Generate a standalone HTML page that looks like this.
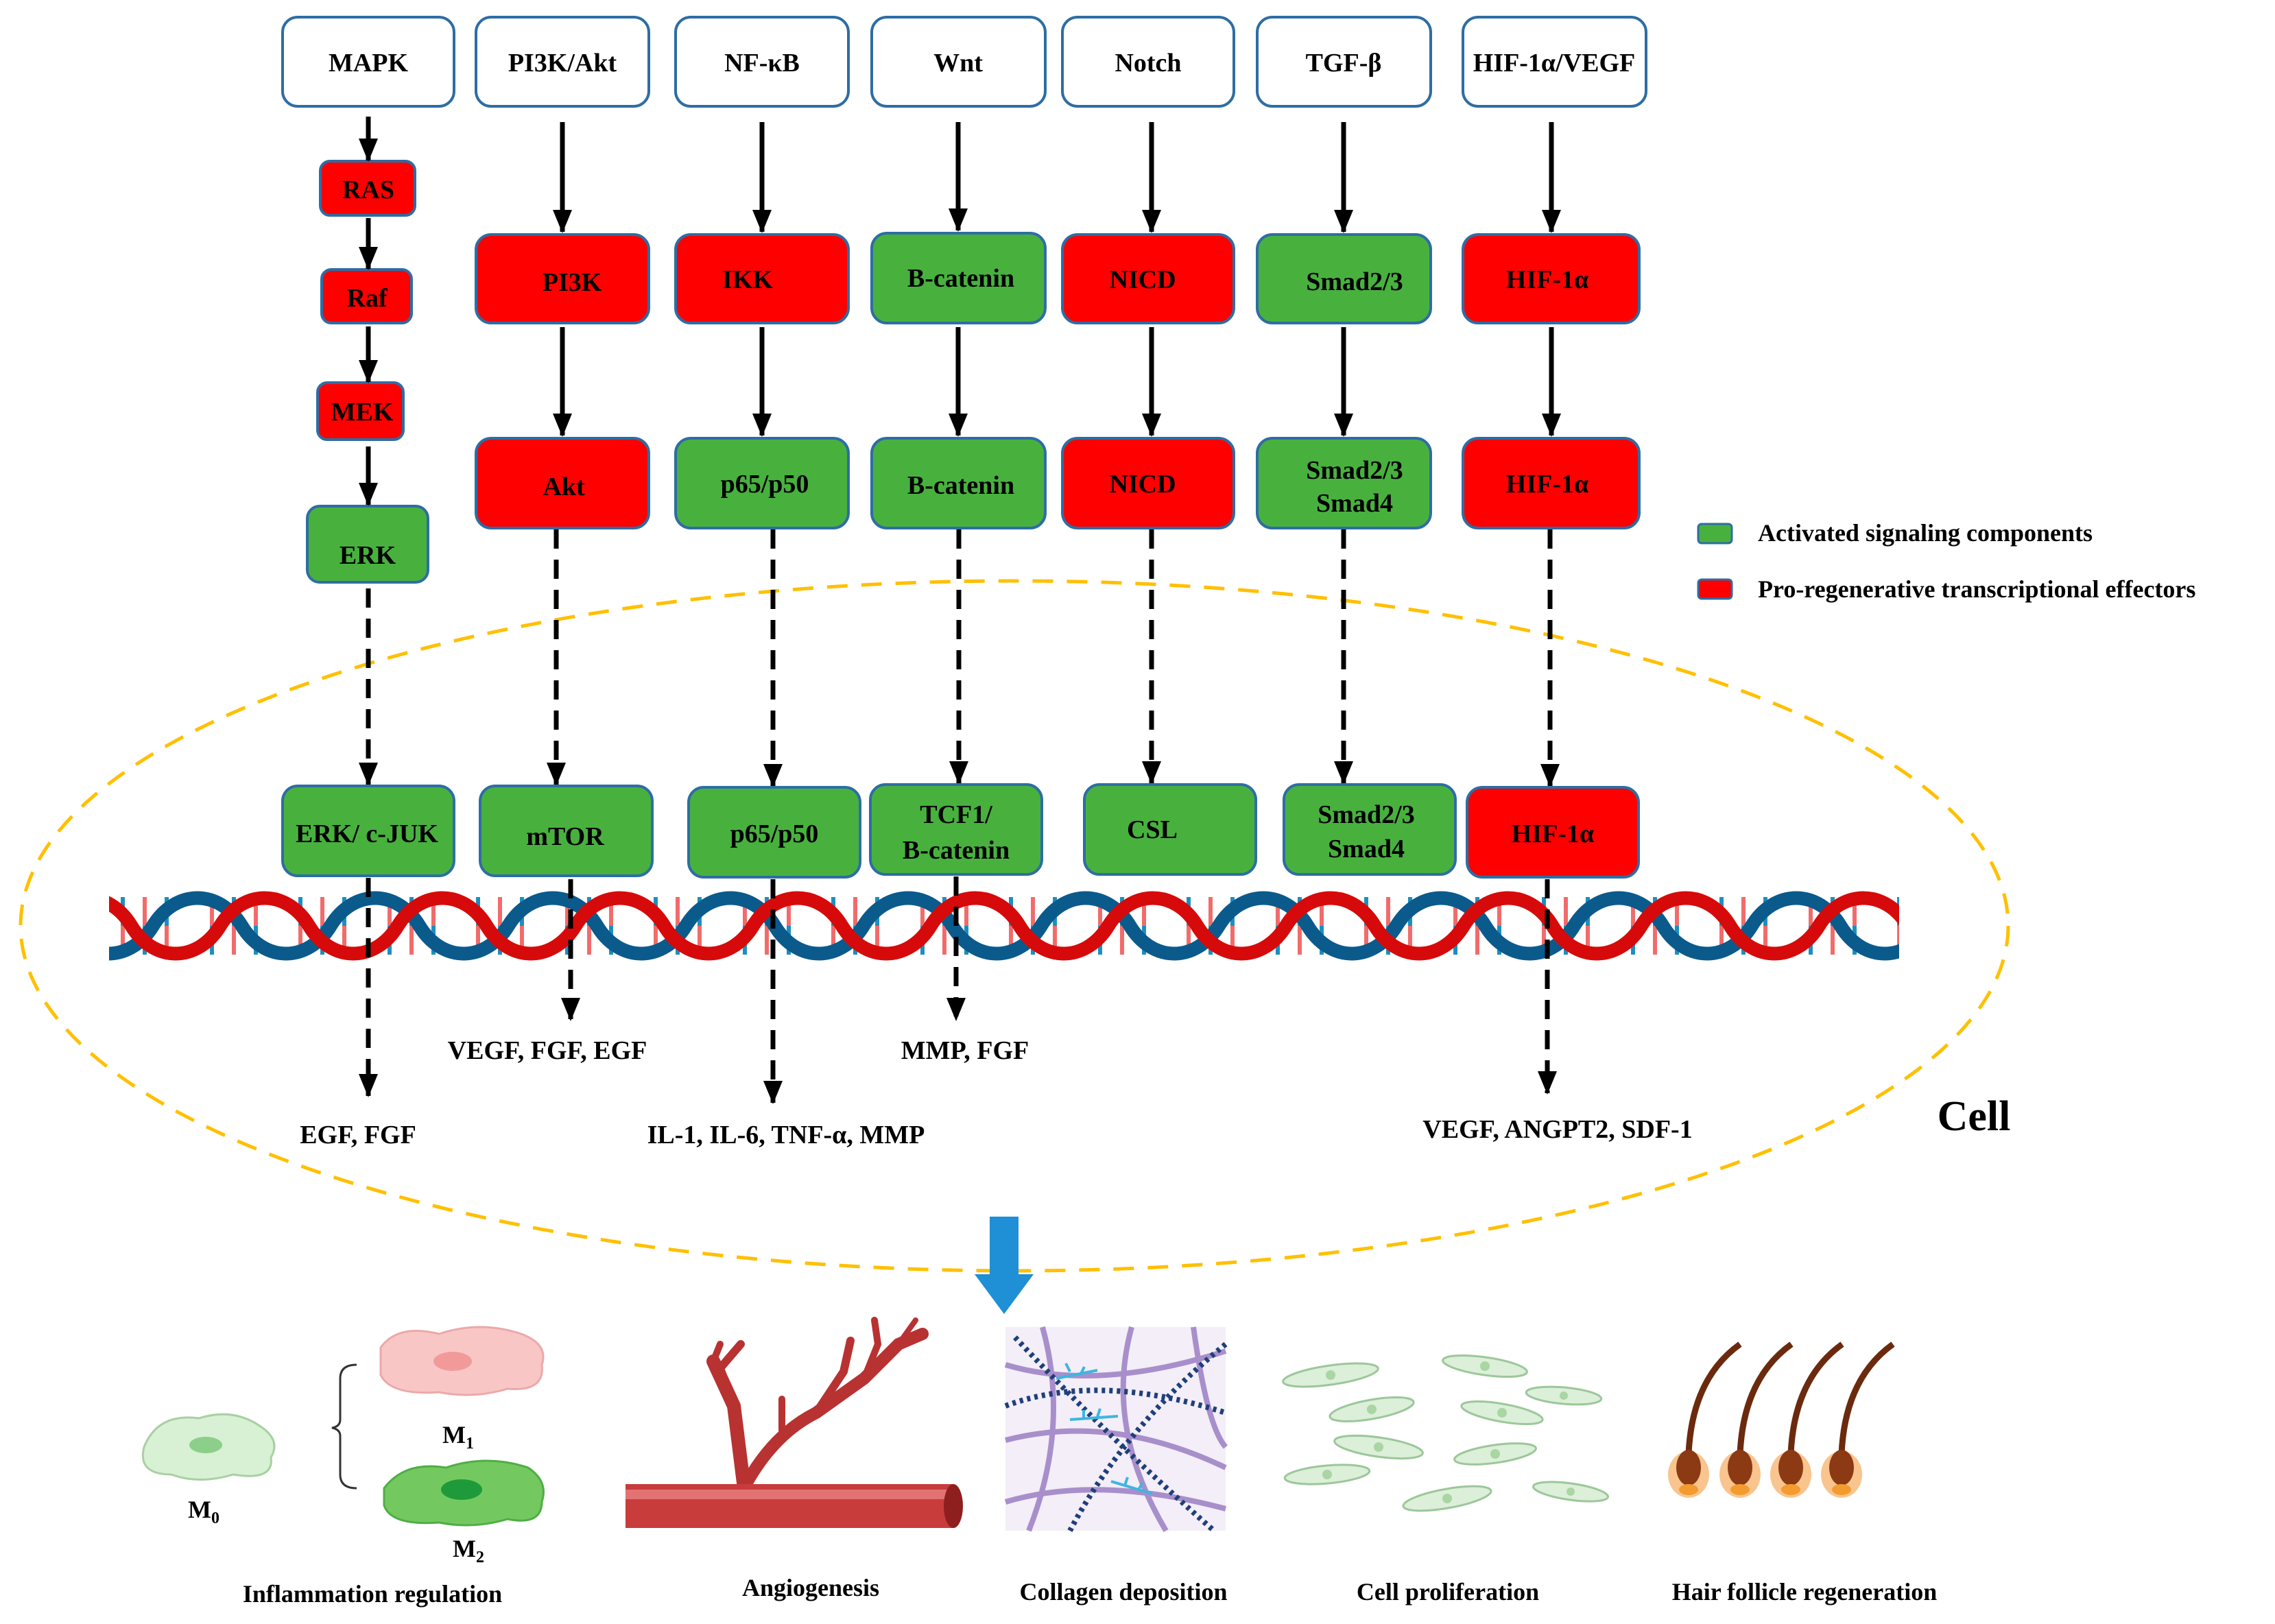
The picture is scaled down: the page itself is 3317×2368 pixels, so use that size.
<!DOCTYPE html>
<html><head><meta charset="utf-8"><style>
html,body{margin:0;padding:0;background:#fff;}
svg{display:block;}
text{font-family:"Liberation Serif","Times New Roman",serif;font-weight:bold;fill:#000;}
</style></head><body>
<svg width="3317" height="2368" viewBox="0 0 3317 2368" xmlns="http://www.w3.org/2000/svg" font-family="Liberation Serif, serif">
<defs>
<marker id="ah" markerUnits="userSpaceOnUse" markerWidth="34" markerHeight="28" refX="32" refY="14" orient="auto" viewBox="0 0 34 28">
<polygon points="0,0 34,14 0,28" fill="#000"/>
</marker>
<pattern id="dna" x="159" y="1280" width="259" height="140" patternUnits="userSpaceOnUse">
<g stroke-width="6">
<line x1="20" y1="28" x2="20" y2="70" stroke="#1c8fc0"/><line x1="20" y1="70" x2="20" y2="112" stroke="#f26b6b"/>
<line x1="52" y1="28" x2="52" y2="70" stroke="#f26b6b"/><line x1="52" y1="70" x2="52" y2="112" stroke="#1c8fc0"/>
<line x1="84" y1="28" x2="84" y2="70" stroke="#1c8fc0"/><line x1="84" y1="70" x2="84" y2="112" stroke="#f26b6b"/>
<line x1="150" y1="28" x2="150" y2="70" stroke="#f26b6b"/><line x1="150" y1="70" x2="150" y2="112" stroke="#1c8fc0"/>
<line x1="182" y1="28" x2="182" y2="70" stroke="#1c8fc0"/><line x1="182" y1="70" x2="182" y2="112" stroke="#f26b6b"/>
<line x1="214" y1="28" x2="214" y2="70" stroke="#f26b6b"/><line x1="214" y1="70" x2="214" y2="112" stroke="#1c8fc0"/>
</g>
<path d="M-259,70 C-226,16 -162,16 -129.5,70 C-97,124 -33,124 0,70 C33,16 97,16 129.5,70 C162,124 226,124 259,70 C292,16 356,16 388.5,70" fill="none" stroke="#0b5a8c" stroke-width="20" transform="translate(64,0)"/>
<path d="M-259,70 C-226,16 -162,16 -129.5,70 C-97,124 -33,124 0,70 C33,16 97,16 129.5,70 C162,124 226,124 259,70 C292,16 356,16 388.5,70" fill="none" stroke="#d60a0a" stroke-width="20" transform="translate(162,0)"/>
</pattern>
</defs>

<ellipse cx="1479" cy="1350" rx="1449" ry="503" fill="none" stroke="#ffc000" stroke-width="5" stroke-dasharray="30 20"/>

<rect x="159" y="1280" width="2610" height="140" fill="url(#dna)"/>

<g fill="#fff" stroke="#2e6da4" stroke-width="4">
<rect x="412" y="25" width="250" height="130" rx="22"/>
<rect x="694" y="25" width="252" height="130" rx="22"/>
<rect x="985" y="25" width="252" height="130" rx="22"/>
<rect x="1271" y="25" width="253" height="130" rx="22"/>
<rect x="1549" y="25" width="250" height="130" rx="22"/>
<rect x="1833" y="25" width="253" height="130" rx="22"/>
<rect x="2133" y="25" width="267" height="130" rx="22"/>
</g>
<g font-size="38" text-anchor="middle">
<text x="537" y="104">MAPK</text>
<text x="820" y="104">PI3K/Akt</text>
<text x="1111" y="104">NF-κB</text>
<text x="1397" y="104">Wnt</text>
<text x="1674" y="104">Notch</text>
<text x="1959" y="104">TGF-β</text>
<text x="2266" y="104">HIF-1α/VEGF</text>
</g>

<g stroke="#2e6da4" stroke-width="4">
<rect x="467" y="235" width="138" height="79" rx="14" fill="#ff0000"/>
<rect x="469" y="393" width="131" height="78" rx="14" fill="#ff0000"/>
<rect x="463" y="558" width="125" height="83" rx="14" fill="#ff0000"/>
<rect x="448" y="738" width="176" height="111" rx="18" fill="#48b13e"/>
</g>
<g font-size="38" text-anchor="middle">
<text x="537" y="289">RAS</text>
<text x="535" y="447">Raf</text>
<text x="528" y="613">MEK</text>
<text x="536" y="822">ERK</text>
</g>

<g stroke="#2e6da4" stroke-width="4">
<rect x="694" y="342" width="252" height="129" rx="22" fill="#ff0000"/>
<rect x="985" y="342" width="252" height="129" rx="22" fill="#ff0000"/>
<rect x="1271" y="340" width="253" height="131" rx="22" fill="#48b13e"/>
<rect x="1549" y="342" width="250" height="129" rx="22" fill="#ff0000"/>
<rect x="1833" y="342" width="253" height="129" rx="22" fill="#48b13e"/>
<rect x="2133" y="342" width="257" height="129" rx="22" fill="#ff0000"/>
<rect x="694" y="639" width="252" height="131" rx="22" fill="#ff0000"/>
<rect x="985" y="639" width="252" height="131" rx="22" fill="#48b13e"/>
<rect x="1271" y="639" width="253" height="131" rx="22" fill="#48b13e"/>
<rect x="1549" y="639" width="250" height="131" rx="22" fill="#ff0000"/>
<rect x="1833" y="639" width="253" height="131" rx="22" fill="#48b13e"/>
<rect x="2133" y="639" width="257" height="131" rx="22" fill="#ff0000"/>
</g>
<g font-size="38" text-anchor="middle">
<text x="834" y="424">PI3K</text>
<text x="1090" y="420">IKK</text>
<text x="1401" y="418">B-catenin</text>
<text x="1666" y="420">NICD</text>
<text x="1975" y="423">Smad2/3</text>
<text x="2256" y="420">HIF-1α</text>
<text x="822" y="722">Akt</text>
<text x="1115" y="718">p65/p50</text>
<text x="1401" y="720">B-catenin</text>
<text x="1666" y="718">NICD</text>
<text x="1975" y="698">Smad2/3</text>
<text x="1975" y="746">Smad4</text>
<text x="2256" y="718">HIF-1α</text>
</g>

<g stroke="#000" stroke-width="7" marker-end="url(#ah)">
<line x1="537" y1="170" x2="537" y2="234"/>
<line x1="537" y1="318" x2="537" y2="392"/>
<line x1="537" y1="476" x2="537" y2="557"/>
<line x1="537" y1="651" x2="537" y2="736"/>
<line x1="820" y1="178" x2="820" y2="338"/>
<line x1="1111" y1="178" x2="1111" y2="338"/>
<line x1="1397" y1="178" x2="1397" y2="336"/>
<line x1="1679" y1="178" x2="1679" y2="338"/>
<line x1="1959" y1="178" x2="1959" y2="338"/>
<line x1="2262" y1="178" x2="2262" y2="338"/>
<line x1="820" y1="477" x2="820" y2="635"/>
<line x1="1111" y1="477" x2="1111" y2="635"/>
<line x1="1397" y1="477" x2="1397" y2="635"/>
<line x1="1679" y1="477" x2="1679" y2="635"/>
<line x1="1959" y1="477" x2="1959" y2="635"/>
<line x1="2262" y1="477" x2="2262" y2="635"/>
</g>

<g stroke="#000" stroke-width="7" stroke-dasharray="28 16" marker-end="url(#ah)">
<line x1="537" y1="858" x2="537" y2="1144"/>
<line x1="811" y1="772" x2="811" y2="1144"/>
<line x1="1127" y1="772" x2="1127" y2="1146"/>
<line x1="1398" y1="772" x2="1398" y2="1142"/>
<line x1="1679" y1="772" x2="1679" y2="1142"/>
<line x1="1959" y1="772" x2="1959" y2="1142"/>
<line x1="2260" y1="772" x2="2260" y2="1146"/>
<line x1="537" y1="1280" x2="537" y2="1598"/>
<line x1="832" y1="1282" x2="832" y2="1487"/>
<line x1="1127" y1="1282" x2="1127" y2="1608"/>
<line x1="1394" y1="1278" x2="1394" y2="1487"/>
<line x1="2256" y1="1282" x2="2256" y2="1594"/>
</g>

<g stroke="#2e6da4" stroke-width="4">
<rect x="412" y="1146" width="250" height="131" rx="22" fill="#48b13e"/>
<rect x="700" y="1146" width="251" height="131" rx="22" fill="#48b13e"/>
<rect x="1004" y="1148" width="250" height="131" rx="22" fill="#48b13e"/>
<rect x="1269" y="1144" width="250" height="131" rx="22" fill="#48b13e"/>
<rect x="1581" y="1144" width="250" height="131" rx="22" fill="#48b13e"/>
<rect x="1872" y="1144" width="250" height="131" rx="22" fill="#48b13e"/>
<rect x="2139" y="1148" width="250" height="131" rx="22" fill="#ff0000"/>
</g>
<g font-size="38" text-anchor="middle">
<text x="535" y="1228">ERK/ c-JUK</text>
<text x="824" y="1232">mTOR</text>
<text x="1129" y="1228">p65/p50</text>
<text x="1394" y="1200">TCF1/</text>
<text x="1394" y="1252">B-catenin</text>
<text x="1680" y="1222">CSL</text>
<text x="1992" y="1200">Smad2/3</text>
<text x="1992" y="1250">Smad4</text>
<text x="2264" y="1228">HIF-1α</text>
</g>

<g font-size="38" text-anchor="middle">
<text x="522" y="1667">EGF, FGF</text>
<text x="798" y="1544">VEGF, FGF, EGF</text>
<text x="1146" y="1667">IL-1, IL-6, TNF-α, MMP</text>
<text x="1407" y="1544">MMP, FGF</text>
<text x="2271" y="1659">VEGF, ANGPT2, SDF-1</text>
<text x="2878" y="1648" font-size="62">Cell</text>
</g>

<rect x="2476" y="764" width="49" height="28" rx="5" fill="#48b13e" stroke="#2e6da4" stroke-width="3"/>
<rect x="2476" y="845" width="49" height="28" rx="5" fill="#ff0000" stroke="#2e6da4" stroke-width="3"/>
<text x="2563" y="789" font-size="36">Activated signaling components</text>
<text x="2563" y="871" font-size="36">Pro-regenerative transcriptional effectors</text>

<polygon points="1443,1774 1485,1774 1485,1858 1507,1858 1464,1916 1421,1858 1443,1858" fill="#1f8fd6"/>

<path d="M210,2110 Q230,2060 290,2068 Q340,2052 380,2080 Q410,2100 395,2125 Q400,2160 340,2150 Q290,2165 250,2150 Q200,2150 210,2110Z" fill="#d8f0d4" stroke="#a8d0a2" stroke-width="3"/>
<ellipse cx="300" cy="2107" rx="24" ry="12" fill="#8ccf8a"/>
<path d="M555,1965 Q580,1930 640,1945 Q700,1925 760,1945 Q800,1960 790,1990 Q795,2030 740,2025 Q690,2040 640,2030 Q570,2035 555,2005Z" fill="#f9c6c6" stroke="#eba9a9" stroke-width="3"/>
<ellipse cx="660" cy="1985" rx="28" ry="14" fill="#f29a9a"/>
<path d="M560,2170 Q590,2130 650,2140 Q710,2120 770,2140 Q800,2160 790,2190 Q790,2225 740,2215 Q690,2230 640,2220 Q570,2225 560,2195Z" fill="#73c95f" stroke="#4fae45" stroke-width="3"/>
<ellipse cx="673" cy="2172" rx="30" ry="15" fill="#1f9a3a"/>
<path d="M520,1990 Q496,1990 496,2010 L496,2070 Q496,2080 484,2082 Q496,2084 496,2094 L496,2150 Q496,2170 520,2170" fill="none" stroke="#333" stroke-width="3"/>
<g font-size="36" text-anchor="middle">
<text x="297" y="2213">M<tspan font-size="24" dy="8">0</tspan></text>
<text x="668" y="2104">M<tspan font-size="24" dy="8">1</tspan></text>
<text x="683" y="2270">M<tspan font-size="24" dy="8">2</tspan></text>
</g>

<g fill="none" stroke="#b83232" stroke-linecap="round">
<path d="M1085,2170 L1070,2050 L1040,1985" stroke-width="20"/>
<path d="M1070,2050 L1050,1995 L1080,1960" stroke-width="12"/>
<path d="M1040,1985 L1050,1960" stroke-width="10"/>
<path d="M1090,2160 Q1130,2090 1190,2060 L1260,2010 L1310,1960 L1345,1945" stroke-width="18"/>
<path d="M1190,2060 L1230,2000 L1240,1955" stroke-width="12"/>
<path d="M1260,2010 L1280,1960 L1275,1925" stroke-width="10"/>
<path d="M1310,1960 L1335,1925" stroke-width="8"/>
<path d="M1140,2085 L1140,2040" stroke-width="10"/>
</g>
<rect x="912" y="2164" width="478" height="64" fill="#c83c3c"/>
<rect x="912" y="2172" width="478" height="14" fill="#e37373"/>
<ellipse cx="1390" cy="2196" rx="14" ry="32" fill="#8f1f1f"/>

<rect x="1466" y="1935" width="321" height="297" fill="#f3eef7"/>
<g fill="none" stroke="#a88fcb" stroke-width="8">
<path d="M1466,1990 Q1600,2030 1787,1970"/>
<path d="M1466,2100 Q1620,2060 1787,2140"/>
<path d="M1520,1935 Q1560,2080 1500,2232"/>
<path d="M1650,1935 Q1610,2080 1700,2232"/>
<path d="M1466,2190 Q1600,2150 1787,2200"/>
<path d="M1740,1935 Q1760,2080 1787,2110"/>
</g>
<g fill="none" stroke="#1f3f7a" stroke-width="8" stroke-dasharray="5 6">
<path d="M1480,1950 Q1620,2100 1770,2232"/>
<path d="M1787,1960 Q1640,2080 1560,2232"/>
<path d="M1466,2050 Q1600,2000 1787,2060"/>
</g>
<g stroke="#3fb5e0" stroke-width="4" fill="none">
<path d="M1540,2010 l60,-12 M1560,2000 l-6,-12 M1575,2005 l6,-12"/>
<path d="M1560,2070 l70,-5 M1580,2068 l0,-12 M1600,2066 l4,-12"/>
<path d="M1620,2160 l60,18 M1640,2166 l4,-12 M1660,2172 l6,-10"/>
</g>

<g fill="#dcefd8" stroke="#9cc79a" stroke-width="3">
<ellipse cx="1940" cy="2005" rx="70" ry="14" transform="rotate(-8 1940 2005)"/>
<ellipse cx="2165" cy="1992" rx="62" ry="13" transform="rotate(8 2165 1992)"/>
<ellipse cx="2000" cy="2055" rx="62" ry="14" transform="rotate(-10 2000 2055)"/>
<ellipse cx="2190" cy="2060" rx="60" ry="13" transform="rotate(10 2190 2060)"/>
<ellipse cx="2280" cy="2035" rx="55" ry="12" transform="rotate(5 2280 2035)"/>
<ellipse cx="2010" cy="2110" rx="65" ry="14" transform="rotate(8 2010 2110)"/>
<ellipse cx="2180" cy="2120" rx="60" ry="13" transform="rotate(-8 2180 2120)"/>
<ellipse cx="1935" cy="2150" rx="62" ry="13" transform="rotate(-5 1935 2150)"/>
<ellipse cx="2110" cy="2185" rx="65" ry="14" transform="rotate(-10 2110 2185)"/>
<ellipse cx="2290" cy="2175" rx="55" ry="12" transform="rotate(8 2290 2175)"/>
</g>
<g fill="#a9d6a3">
<circle cx="1940" cy="2005" r="7"/><circle cx="2165" cy="1992" r="7"/><circle cx="2000" cy="2055" r="7"/><circle cx="2190" cy="2060" r="7"/><circle cx="2280" cy="2035" r="6"/><circle cx="2010" cy="2110" r="7"/><circle cx="2180" cy="2120" r="7"/><circle cx="1935" cy="2150" r="7"/><circle cx="2110" cy="2185" r="7"/><circle cx="2290" cy="2175" r="6"/>
</g>

<g>
<g transform="translate(2462,0)"><path d="M0,2120 Q5,2010 75,1960" fill="none" stroke="#6b2a0e" stroke-width="9"/><ellipse cx="0" cy="2150" rx="30" ry="34" fill="#f9c48d"/><ellipse cx="0" cy="2140" rx="18" ry="26" fill="#8b3a14"/><ellipse cx="0" cy="2172" rx="14" ry="8" fill="#f39b2e"/></g>
<g transform="translate(2537,0)"><path d="M0,2120 Q5,2010 75,1960" fill="none" stroke="#6b2a0e" stroke-width="9"/><ellipse cx="0" cy="2150" rx="30" ry="34" fill="#f9c48d"/><ellipse cx="0" cy="2140" rx="18" ry="26" fill="#8b3a14"/><ellipse cx="0" cy="2172" rx="14" ry="8" fill="#f39b2e"/></g>
<g transform="translate(2611,0)"><path d="M0,2120 Q5,2010 75,1960" fill="none" stroke="#6b2a0e" stroke-width="9"/><ellipse cx="0" cy="2150" rx="30" ry="34" fill="#f9c48d"/><ellipse cx="0" cy="2140" rx="18" ry="26" fill="#8b3a14"/><ellipse cx="0" cy="2172" rx="14" ry="8" fill="#f39b2e"/></g>
<g transform="translate(2685,0)"><path d="M0,2120 Q5,2010 75,1960" fill="none" stroke="#6b2a0e" stroke-width="9"/><ellipse cx="0" cy="2150" rx="30" ry="34" fill="#f9c48d"/><ellipse cx="0" cy="2140" rx="18" ry="26" fill="#8b3a14"/><ellipse cx="0" cy="2172" rx="14" ry="8" fill="#f39b2e"/></g>
</g>

<g font-size="36" text-anchor="middle">
<text x="543" y="2336">Inflammation  regulation</text>
<text x="1182" y="2327">Angiogenesis</text>
<text x="1638" y="2333">Collagen deposition</text>
<text x="2111" y="2333">Cell proliferation</text>
<text x="2631" y="2333">Hair follicle regeneration</text>
</g>
</svg>
</body></html>
